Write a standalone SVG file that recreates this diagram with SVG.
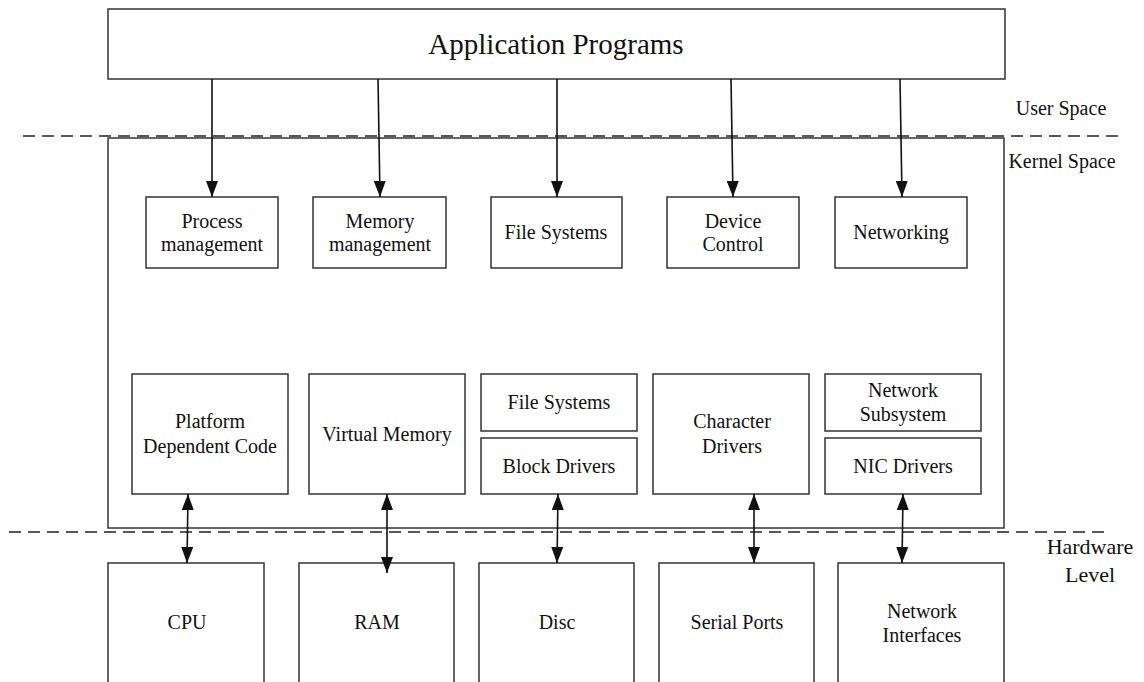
<svg xmlns="http://www.w3.org/2000/svg" width="1144" height="682" viewBox="0 0 1144 682">
<style>
.box{fill:#fff;stroke:#333;stroke-width:1.5}
.t{font-family:"Liberation Serif","Times New Roman",serif;font-size:20px;fill:#111;text-anchor:middle}
.big{font-size:29px}
.hw{font-size:22px}
.dash{stroke:#222;stroke-width:1.5;stroke-dasharray:12 7;fill:none}
.con{stroke:#111;stroke-width:1.6;fill:none}
</style>
<defs>
<marker id="ah" viewBox="0 0 16 12" refX="16" refY="6" markerWidth="16" markerHeight="12" markerUnits="userSpaceOnUse" orient="auto-start-reverse">
<path d="M0,0 L16,6 L0,12 Z" fill="#111"/>
</marker>
</defs>
<rect width="1144" height="682" fill="#fff"/>
<g id="app"><rect class="box" x="108" y="9" width="897" height="70"/><text class="t big" x="556" y="54">Application Programs</text></g>
<g id="kernel"><rect class="box" x="108" y="138" width="896" height="390"/></g>
<g id="labels">
<text class="t" x="1061" y="115">User Space</text>
<text class="t" x="1062" y="168">Kernel Space</text>
<text class="t hw" x="1090" y="554">Hardware</text>
<text class="t hw" x="1090" y="582">Level</text>
</g>
<g id="dividers">
<line class="dash" x1="23" y1="136" x2="1123" y2="136"/>
<line class="dash" x1="9" y1="532" x2="1108" y2="532"/>
</g>
<g id="proc"><rect class="box" x="146" y="197" width="132" height="71"/><text class="t" x="212" y="228">Process</text><text class="t" x="212" y="251">management</text></g>
<g id="mem"><rect class="box" x="313" y="197" width="133" height="71"/><text class="t" x="380" y="228">Memory</text><text class="t" x="380" y="251">management</text></g>
<g id="fs"><rect class="box" x="491" y="197" width="131" height="71"/><text class="t" x="556" y="239">File Systems</text></g>
<g id="dev"><rect class="box" x="667" y="197" width="132" height="71"/><text class="t" x="733" y="228">Device</text><text class="t" x="733" y="251">Control</text></g>
<g id="net"><rect class="box" x="835" y="197" width="132" height="71"/><text class="t" x="901" y="239">Networking</text></g>
<g id="pdc"><rect class="box" x="132" y="374" width="156" height="120"/><text class="t" x="210" y="428">Platform</text><text class="t" x="210" y="453">Dependent Code</text></g>
<g id="vm"><rect class="box" x="309" y="374" width="156" height="120"/><text class="t" x="387" y="441">Virtual Memory</text></g>
<g id="fs2"><rect class="box" x="481" y="374" width="156" height="57"/><text class="t" x="559" y="409">File Systems</text></g>
<g id="bd"><rect class="box" x="481" y="438" width="156" height="56"/><text class="t" x="559" y="473">Block Drivers</text></g>
<g id="cd"><rect class="box" x="653" y="374" width="156" height="120"/><text class="t" x="732" y="428">Character</text><text class="t" x="732" y="453">Drivers</text></g>
<g id="ns"><rect class="box" x="825" y="374" width="156" height="57"/><text class="t" x="903" y="397">Network</text><text class="t" x="903" y="421">Subsystem</text></g>
<g id="nic"><rect class="box" x="825" y="438" width="156" height="56"/><text class="t" x="903" y="473">NIC Drivers</text></g>
<g id="cpu"><rect class="box" x="108" y="563" width="156" height="130"/><text class="t" x="187" y="629">CPU</text></g>
<g id="ram"><rect class="box" x="299" y="563" width="155" height="130"/><text class="t" x="377" y="629">RAM</text></g>
<g id="disc"><rect class="box" x="479" y="563" width="155" height="130"/><text class="t" x="557" y="629">Disc</text></g>
<g id="serial"><rect class="box" x="659" y="563" width="155" height="130"/><text class="t" x="737" y="629">Serial Ports</text></g>
<g id="nif"><rect class="box" x="838" y="563" width="166" height="130"/><text class="t" x="922" y="618">Network</text><text class="t" x="922" y="642">Interfaces</text></g>
<g id="connectors">
<line class="con" x1="212" y1="79" x2="212" y2="197" marker-end="url(#ah)"/>
<line class="con" x1="378" y1="79" x2="380" y2="197" marker-end="url(#ah)"/>
<line class="con" x1="557" y1="79" x2="557" y2="197" marker-end="url(#ah)"/>
<line class="con" x1="731" y1="79" x2="733" y2="197" marker-end="url(#ah)"/>
<line class="con" x1="900" y1="79" x2="902" y2="197" marker-end="url(#ah)"/>
<line class="con" x1="188" y1="494" x2="187" y2="563" marker-start="url(#ah)" marker-end="url(#ah)"/>
<line class="con" x1="387" y1="494" x2="387" y2="573" marker-start="url(#ah)" marker-end="url(#ah)"/>
<line class="con" x1="558" y1="494" x2="557" y2="563" marker-start="url(#ah)" marker-end="url(#ah)"/>
<line class="con" x1="754" y1="494" x2="754" y2="563" marker-start="url(#ah)" marker-end="url(#ah)"/>
<line class="con" x1="903" y1="494" x2="902" y2="563" marker-start="url(#ah)" marker-end="url(#ah)"/>
</g>
</svg>
